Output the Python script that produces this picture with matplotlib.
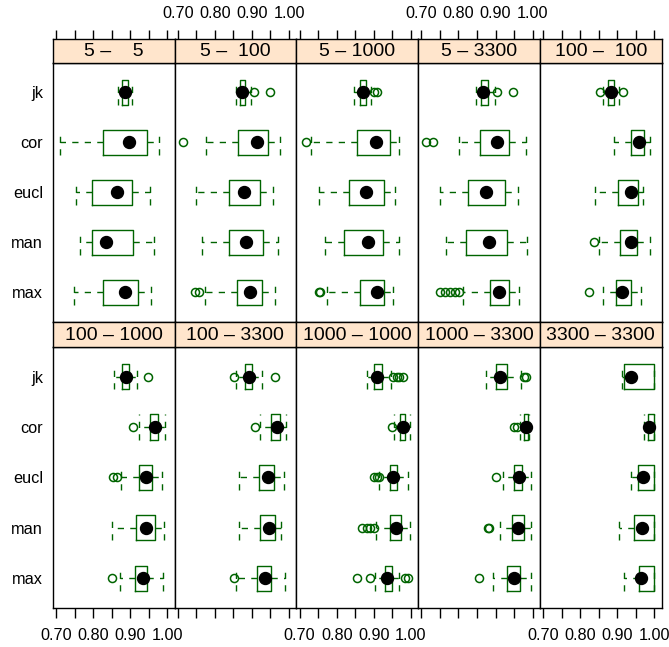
# lattice-style bwplot: accuracy of 5 methods over 10 size pairs
import matplotlib
matplotlib.use('Agg')
import matplotlib.pyplot as plt

plt.rcParams['font.family'] = ['Liberation Sans', 'DejaVu Sans']

# panel ordering: first number / second number of each pair
pair_from = [5, 5, 5, 5, 100, 100, 100, 1000, 1000, 3300]
pair_to = [5, 100, 1000, 3300, 100, 1000, 3300, 1000, 3300, 3300]
methods = ['jk', 'cor', 'eucl', 'man', 'max']

# five-number summaries per panel, rows follow `methods`
lower_whisker = [
    [0.868, 0.712, 0.754, 0.765, 0.749],
    [0.856, 0.775, 0.748, 0.766, 0.773],
    [0.848, 0.732, 0.751, 0.768, 0.774],
    [0.847, 0.801, 0.751, 0.767, 0.813],
    [0.861, 0.891, 0.840, 0.851, 0.8625],
    [0.856, 0.924, 0.874, 0.850, 0.872],
    [0.856, 0.921, 0.865, 0.864, 0.858],
    [0.882, 0.954, 0.915, 0.907, 0.904],
    [0.874, 0.965, 0.921, 0.9125, 0.894],
    [0.912, 0.971, 0.936, 0.904, 0.917],
]
q1 = [
    [0.879, 0.828, 0.798, 0.796, 0.828],
    [0.869, 0.8625, 0.838, 0.838, 0.860],
    [0.862, 0.856, 0.832, 0.820, 0.862],
    [0.862, 0.858, 0.826, 0.821, 0.886],
    [0.876, 0.936, 0.901, 0.907, 0.896],
    [0.877, 0.954, 0.924, 0.917, 0.914],
    [0.882, 0.952, 0.918, 0.922, 0.913],
    [0.900, 0.971, 0.943, 0.943, 0.930],
    [0.901, 0.977, 0.951, 0.944, 0.932],
    [0.919, 0.983, 0.956, 0.945, 0.959],
]
median = [
    [0.886, 0.897, 0.864, 0.835, 0.885],
    [0.873, 0.914, 0.878, 0.883, 0.895],
    [0.871, 0.907, 0.878, 0.884, 0.908],
    [0.867, 0.904, 0.874, 0.883, 0.908],
    [0.882, 0.958, 0.937, 0.936, 0.912],
    [0.888, 0.966, 0.944, 0.942, 0.936],
    [0.892, 0.967, 0.943, 0.947, 0.935],
    [0.908, 0.978, 0.953, 0.961, 0.936],
    [0.9125, 0.981, 0.963, 0.961, 0.950],
    [0.938, 0.986, 0.970, 0.967, 0.965],
]
q3 = [
    [0.895, 0.946, 0.905, 0.908, 0.921],
    [0.880, 0.942, 0.921, 0.930, 0.927],
    [0.878, 0.944, 0.927, 0.924, 0.927],
    [0.879, 0.935, 0.926, 0.930, 0.937],
    [0.891, 0.972, 0.956, 0.954, 0.937],
    [0.897, 0.975, 0.959, 0.966, 0.946],
    [0.900, 0.976, 0.959, 0.9625, 0.952],
    [0.921, 0.984, 0.964, 0.973, 0.949],
    [0.930, 0.987, 0.9705, 0.978, 0.965],
    [0.999, 0.999, 0.999, 0.999, 0.999],
]
upper_whisker = [
    [0.904, 0.977, 0.953, 0.964, 0.957],
    [0.898, 0.977, 0.958, 0.971, 0.963],
    [0.893, 0.967, 0.958, 0.969, 0.953],
    [0.899, 0.983, 0.961, 0.984, 0.963],
    [0.905, 0.989, 0.970, 0.989, 0.9625],
    [0.918, 0.994, 0.987, 0.991, 0.988],
    [0.928, 0.992, 0.9875, 0.978, 0.989],
    [0.946, 0.997, 0.993, 0.997, 0.969],
    [0.970, 0.990, 0.996, 0.996, 0.996],
    [0.999, 0.999, 0.999, 0.999, 0.999],
]
outliers = [
    [[], [], [], [], []],
    [[0.905, 0.948], [0.715], [], [], [0.746, 0.758]],
    [[0.900, 0.908], [0.716], [], [], [0.753, 0.756]],
    [[0.904, 0.948], [0.713, 0.731], [], [], [0.749, 0.763, 0.776, 0.790, 0.801]],
    [[0.852, 0.914], [], [], [0.8375], [0.824]],
    [[0.948], [0.908], [0.853, 0.865], [], [0.850]],
    [[0.851, 0.961], [0.907], [], [], [0.851]],
    [[0.951, 0.962, 0.969, 0.978], [0.948], [0.902, 0.908, 0.913],
     [0.868, 0.881, 0.890, 0.902], [0.855, 0.891, 0.985, 0.993]],
    [[0.977, 0.983], [0.950, 0.959], [0.901], [0.880, 0.883], [0.856]],
    [[], [], [], [], []],
]

x_ticks = [0.70, 0.75, 0.80, 0.85, 0.90, 0.95, 1.00]
x_tick_labels = ['0.70', '', '0.80', '', '0.90', '', '1.00']

W, H = 669, 647
fig = plt.figure(figsize=(W / 100, H / 100), dpi=100)

green = '#006400'
dash = (0, (4.5, 4.5))
col_left = 52.7
col_w = 121.8
rows = [(38.5, 62.5, 62.5, 322.0), (322.0, 346.5, 346.5, 608.3)]  # strip top/bottom, panel top/bottom
xlim = (0.691, 1.0197)
ypos = [5, 4, 3, 2, 1]


def rect(x0, y0, x1, y1):
    return [x0 / W, 1 - y1 / H, (x1 - x0) / W, (y1 - y0) / H]


for p in range(10):
    r, c = divmod(p, 5)
    st, sb, pt, pb = rows[r]
    x0 = col_left + c * col_w
    x1 = x0 + col_w

    # panel
    ax = fig.add_axes(rect(x0, pt, x1, pb))
    stats = []
    for i, m in enumerate(methods):
        stats.append(dict(med=median[p][i], q1=q1[p][i], q3=q3[p][i],
                          whislo=lower_whisker[p][i], whishi=upper_whisker[p][i],
                          fliers=outliers[p][i], label=m))
    ax.bxp(stats, positions=ypos, widths=0.5, capwidths=0.5, orientation='horizontal',
           boxprops=dict(color=green, lw=1.0),
           whiskerprops=dict(color=green, lw=1.0, linestyle=dash),
           capprops=dict(color=green, lw=1.0, linestyle=dash),
           medianprops=dict(lw=0),
           flierprops=dict(marker='o', markerfacecolor='none', markeredgecolor=green,
                           markersize=5.8, markeredgewidth=1.1))
    ax.plot(median[p], ypos, 'o', color='black', markersize=8.6, zorder=5)
    ax.set_xlim(*xlim)
    ax.set_ylim(0.4, 5.6)
    for s in ax.spines.values():
        s.set_linewidth(1.0)

    if c == 0:
        ax.set_yticks(ypos)
        ax.set_yticklabels(methods, fontsize=11.7)
        ax.tick_params(axis='y', length=0, pad=7)
    else:
        ax.set_yticks([])

    if r == 1:
        ax.set_xticks(x_ticks)
        if c % 2 == 0:
            ax.set_xticklabels(x_tick_labels, fontsize=11.7)
        else:
            ax.set_xticklabels([''] * len(x_ticks))
        ax.tick_params(axis='x', direction='out', length=7, width=1.0, pad=7)
    else:
        ax.set_xticks([])

    # strip
    sx = fig.add_axes(rect(x0, st, x1, sb))
    sx.set_facecolor('#FFE5CC')
    sx.set_xlim(*xlim)
    sx.set_yticks([])
    for s in sx.spines.values():
        s.set_linewidth(1.0)
    sx.text(0.5, 0.45, f'{pair_from[p]} \u2013 {pair_to[p]:>4}', transform=sx.transAxes,
            ha='center', va='center', fontsize=14)
    if r == 0:
        sx.set_xticks(x_ticks)
        sx.xaxis.set_ticks_position('top')
        if c % 2 == 1:
            sx.set_xticklabels(x_tick_labels, fontsize=11.7)
        else:
            sx.set_xticklabels([''] * len(x_ticks))
        sx.tick_params(axis='x', direction='out', length=6.5, width=1.0, pad=6)
    else:
        sx.set_xticks([])

fig.savefig('out.png', dpi=100)
